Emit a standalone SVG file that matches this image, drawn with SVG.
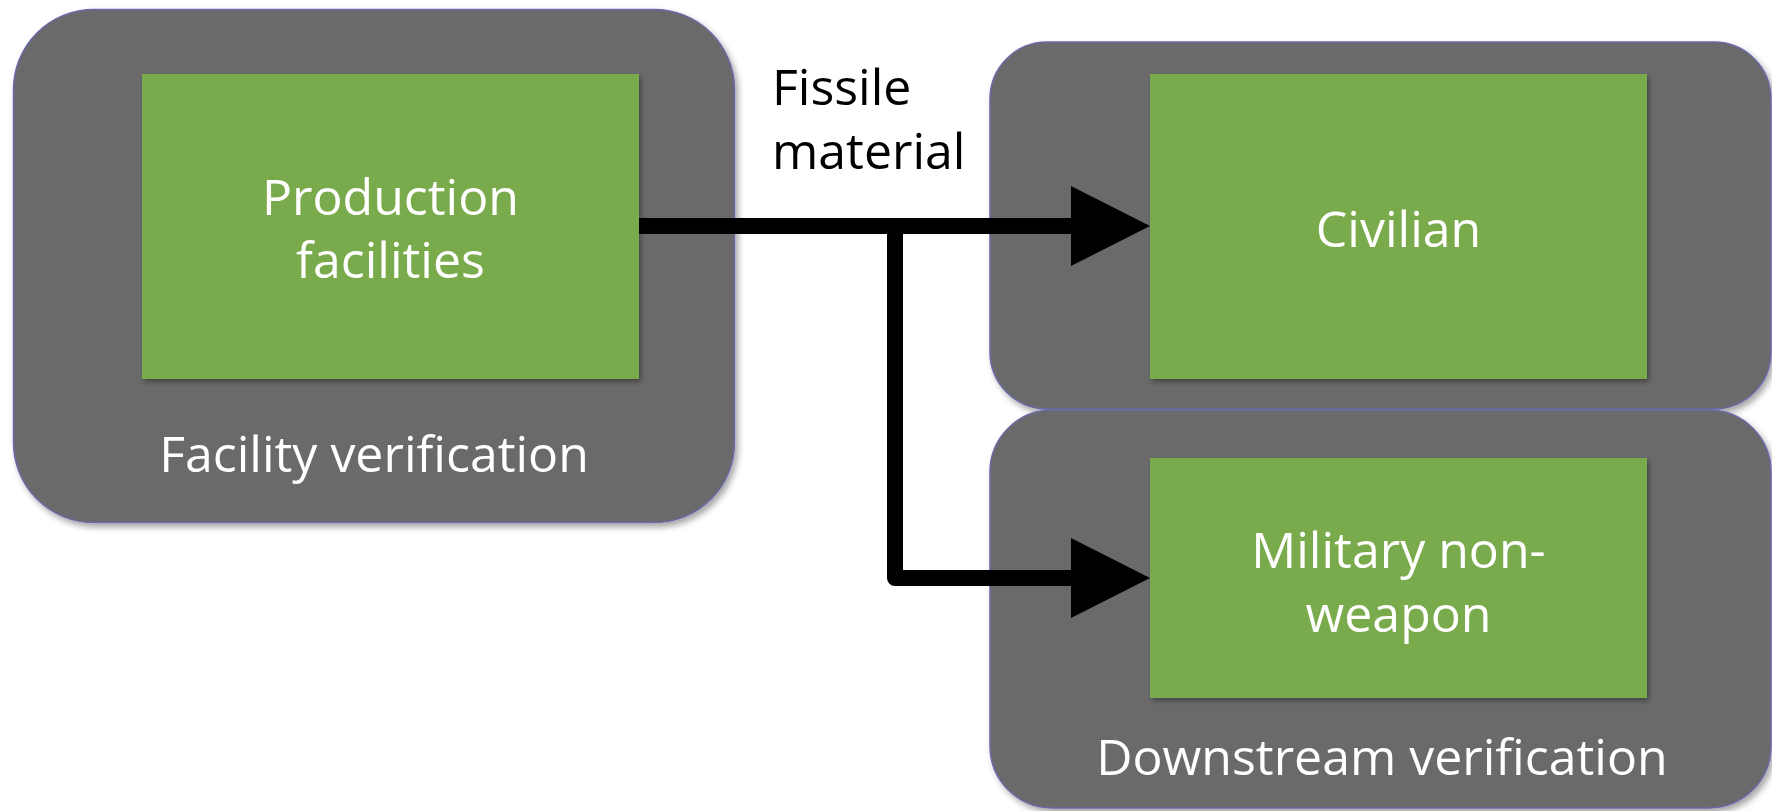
<svg xmlns="http://www.w3.org/2000/svg" width="1772" height="811" viewBox="0 0 1772 811">
  <style>
    .outer { fill: #6a6a6a; stroke: #6a6aa8; stroke-width: 1.5; filter: url(#shadow); }
    .inner { fill: #79aa4c; filter: url(#shadow2); }
    .t { font-family: "Open Sans", "Lato", sans-serif; font-size: 50px; fill: #ffffff; text-anchor: middle; }
    .lbl { font-family: "Open Sans", "Lato", sans-serif; font-size: 50px; fill: #000000; }
    .conn { fill: none; stroke: #000000; stroke-width: 16; stroke-linejoin: round; }
  </style>
  <defs>
    <filter id="shadow" x="-10%" y="-10%" width="120%" height="120%">
      <feDropShadow dx="3" dy="4" stdDeviation="3" flood-color="#000" flood-opacity="0.35"/>
    </filter>
    <filter id="shadow2" x="-10%" y="-10%" width="120%" height="120%">
      <feDropShadow dx="2" dy="3" stdDeviation="2.5" flood-color="#000" flood-opacity="0.35"/>
    </filter>
    <marker id="arrow" markerUnits="userSpaceOnUse" viewBox="0 0 79 80" refX="9" refY="40" markerWidth="79" markerHeight="80" orient="auto">
      <path d="M0,0 L79,40 L0,80 Z" fill="#000000"/>
    </marker>
  </defs>
  <rect width="1772" height="811" fill="#ffffff"/>

  <g id="facility-verification">
    <rect class="outer" x="13.5" y="9.5" width="721" height="513" rx="80" ry="80"/>
    <text class="t" x="374" y="472">Facility verification</text>
  </g>
  <g id="production-facilities">
    <rect class="inner" x="142" y="74" width="497" height="305"/>
    <text class="t" x="390.5" y="215">Production</text>
    <text class="t" x="390.5" y="278">facilities</text>
  </g>

  <g id="civilian-group">
    <rect class="outer" x="990" y="42" width="781" height="367" rx="57" ry="57"/>
  </g>
  <g id="civilian">
    <rect class="inner" x="1150" y="74" width="497" height="305"/>
    <text class="t" x="1398.5" y="246.5">Civilian</text>
  </g>

  <g id="downstream-verification">
    <rect class="outer" x="990" y="410" width="781" height="398" rx="62" ry="62"/>
    <text class="t" x="1382" y="775">Downstream verification</text>
  </g>
  <g id="military-non-weapon">
    <rect class="inner" x="1150" y="458" width="497" height="240"/>
    <text class="t" x="1398.5" y="568">Military non-</text>
    <text class="t" x="1398.5" y="632">weapon</text>
  </g>

  <g id="connectors">
    <path class="conn" d="M639,226 H1080" marker-end="url(#arrow)"/>
    <path class="conn" d="M895,226 V578 H1080" marker-end="url(#arrow)"/>
    <text class="lbl" x="772" y="105">Fissile</text>
    <text class="lbl" x="772" y="169">material</text>
  </g>
</svg>
